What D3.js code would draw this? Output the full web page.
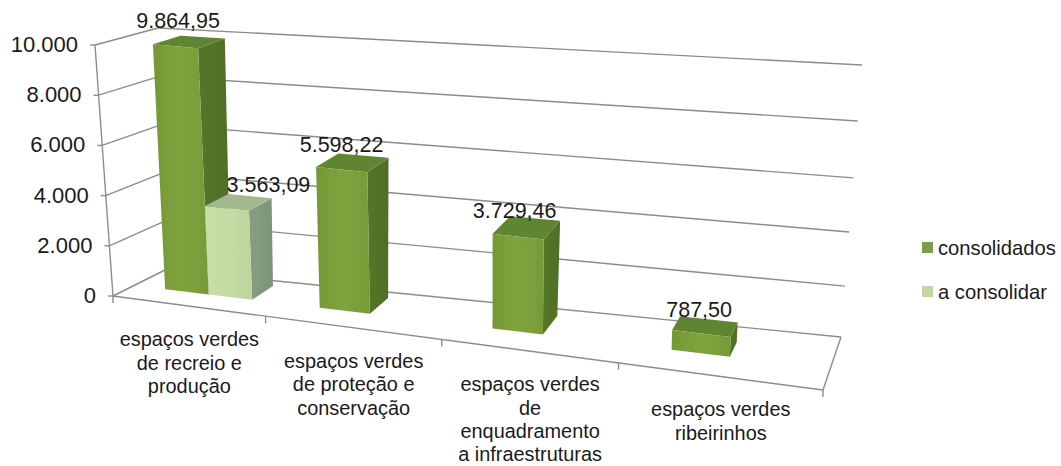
<!DOCTYPE html>
<html><head><meta charset="utf-8">
<script src="https://cdn.jsdelivr.net/npm/d3@7/dist/d3.min.js"></script>
<style>html,body{margin:0;padding:0;background:#fff}svg{display:block}text{font-family:"Liberation Sans",Arial,sans-serif;fill:#1a1a1a}</style>
</head><body><svg id="c" width="1061" height="466"></svg>
<script>
const categories = [
  ["espaços verdes","de recreio e","produção"],
  ["espaços verdes","de proteção e","conservação"],
  ["espaços verdes","de","enquadramento","a infraestruturas"],
  ["espaços verdes","ribeirinhos"]
];
const seriesNames = ["consolidados","a consolidar"];
const consolidados = [9864.95,5598.22,3729.46,787.50];
const aConsolidar = [3563.09,null,null,null];
const yTicks = [0,2000,4000,6000,8000,10000];

const svg = d3.select("#c");
const loc = d3.formatLocale({decimal:",",thousands:".",grouping:[3],currency:["",""]});
const fmtVal = loc.format(",.2f"), fmtTick = loc.format(",.0f");

// projection frame (front/back, left/right, floor/top)
const frame = {
  f0:[113,296], f1:[823,390], b0:[165,270], b1:[841,337],
  ft0:[95,45], ft1:[831,122], bt0:[158,28], bt1:[862,65]
};
const lerp=(a,b,t)=>[a[0]+(b[0]-a[0])*t,a[1]+(b[1]-a[1])*t];
const xWarp = d3.scaleLinear().domain([0,1,2,3,4]).range([0,.215,.463,.712,1]);
const yS = d3.scaleLinear().domain([0,10000]).range([0,1]);
// perspective of the height axis towards the right-hand edge
const yRight = d3.scaleLinear().domain([0,.2,.4,.6,.8,1]).range([0,.187,.386,.585,.794,1]);
const sub = d3.scaleBand().domain(seriesNames).range([0,1]).paddingInner(0).paddingOuter(.72);
const depthFront = .4;
const depthBack = d3.scaleLinear().domain([0,.6,.85]).range([.85,.85,.7]);
function P(u,v,d){
  const s=xWarp(u),t0=yS(v),t=t0+s*(yRight(t0)-t0);
  const fl=lerp(lerp(frame.f0,frame.f1,s),lerp(frame.b0,frame.b1,s),d);
  const tp=lerp(lerp(frame.ft0,frame.ft1,s),lerp(frame.bt0,frame.bt1,s),d);
  return lerp(fl,tp,t);
}
const line=(a,b,w=1.4,c="#8c8c8c")=>svg.append("line").attr("x1",a[0]).attr("y1",a[1]).attr("x2",b[0]).attr("y2",b[1]).attr("stroke",c).attr("stroke-width",w);

// grid
yTicks.forEach(v=>{
  if(v>0) line(P(0,v,1),P(4,v,1));
  line(P(0,v,0),P(0,v,1));
  const p=P(0,v,0);
  line(p,[p[0]-5,p[1]]);
  svg.append("text").attr("x",p[0]-17).attr("y",p[1]+7).attr("text-anchor","end").attr("font-size",22).text(fmtTick(v));
});
line(P(0,0,1),P(4,0,1));
line(P(0,0,0),P(4,0,0));
line(P(4,0,0),P(4,0,1));
line(P(0,0,0),P(0,10000,0));
[0,1,2,3,4].forEach(i=>{const p=P(i,0,0);line(p,[p[0],p[1]+7]);});

// gradients
const defs=svg.append("defs");
defs.append("filter").attr("id","soft").append("feGaussianBlur").attr("stdDeviation",.6);
const palettes=[
  {front:["#759836","#80a33f","#779a38"],side:["#557529","#4f6f27"],top:"#5f8431"},
  {front:["#c8dea8","#c5dba4","#bdd49c"],side:["#869e80","#7c947a"],top:"#a3b88f"}
];
palettes.forEach((p,i)=>{
  const g=defs.append("linearGradient").attr("id","fr"+i);
  p.front.forEach((c,k)=>g.append("stop").attr("offset",k/(p.front.length-1)).attr("stop-color",c));
  const h=defs.append("linearGradient").attr("id","sd"+i);
  p.side.forEach((c,k)=>h.append("stop").attr("offset",k).attr("stop-color",c));
});
const poly=pts=>pts.map(p=>p.join(",")).join(" ");

// bars
const bars=[];
[consolidados,aConsolidar].forEach((vals,si)=>vals.forEach((v,ci)=>{ if(v!=null) bars.push({si,ci,v}); }));
bars.sort((a,b)=>a.ci-b.ci||a.si-b.si);
const bw=sub.bandwidth();
const labelShift=[[[-11,-14],[-11,-11],[-12,-10],[-6,-9]],[[30,-10]]];
const barG=svg.append("g").attr("filter","url(#soft)");
bars.forEach(b=>{
  const u0=b.ci+sub(seriesNames[b.si]),u1=u0+bw,d0=depthFront,d1=depthBack(xWarp(u1));
  const g=barG.append("g");
  g.append("polygon").attr("points",poly([P(u1,0,d0),P(u1,0,d1),P(u1,b.v,d1),P(u1,b.v,d0)])).attr("fill",`url(#sd${b.si})`);
  g.append("polygon").attr("points",poly([P(u0,b.v,d0),P(u1,b.v,d0),P(u1,b.v,d1),P(u0,b.v,d1)])).attr("fill",palettes[b.si].top);
  g.append("polygon").attr("points",poly([P(u0,0,d0),P(u1,0,d0),P(u1,b.v,d0),P(u0,b.v,d0)])).attr("fill",`url(#fr${b.si})`);
  b.anchor=P((u0+u1)/2,b.v,(d0+d1)/2);
});
bars.forEach(b=>{
  const sh=labelShift[b.si][b.ci];
  svg.append("text").attr("x",b.anchor[0]+sh[0]).attr("y",b.anchor[1]+sh[1])
   .attr("text-anchor","middle").attr("font-size",21.5).text(fmtVal(b.v));
});

// category labels
categories.forEach((lines,i)=>{
  const p=P(i+.5,0,0);
  const t=svg.append("text").attr("text-anchor","middle").attr("font-size",19.9);
  lines.forEach((l,k)=>t.append("tspan").attr("x",p[0]).attr("y",p[1]+40+k*23.4).text(l));
});

// legend
const lg=d3.scalePoint().domain(seriesNames).range([247.5,291.5]);
seriesNames.forEach((n,i)=>{
  svg.append("rect").attr("x",922).attr("y",lg(n)-5.5).attr("width",11).attr("height",11).attr("fill",["#7f9c48","#c3d6a6"][i]);
  svg.append("text").attr("x",938).attr("y",lg(n)+7).attr("font-size",20.2).text(n);
});
</script></body></html>
